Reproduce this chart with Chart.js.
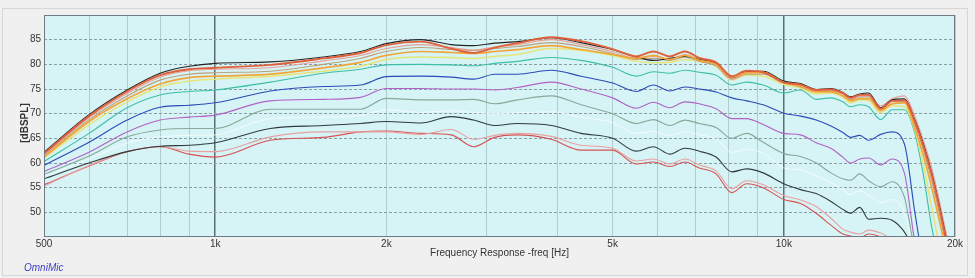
<!DOCTYPE html>
<html lang="en">
<head>
    <meta charset="UTF-8">
    <title>OmniMic Frequency Response</title>
    <script src="https://cdn.jsdelivr.net/npm/chart.js"></script>
    <style>
        body { margin: 0; background: #f0f0f0; }
        canvas { display: block; }
    </style>
</head>
<body>
    <canvas id="freqChart" width="975" height="278"></canvas>

    <script>
        // frequencies (Hz) the curves were read at
        const freqs = [500, 600, 700, 800, 900, 1000, 1250, 1550, 1800, 2000, 2300, 2600, 2850, 3100, 3400,
            3900, 4400, 5000, 5500, 5900, 6300, 6700, 7100, 7600, 8100, 8600, 9200, 10000, 10700, 11400,
            12100, 12700, 13100, 13600, 14100, 14800, 15500, 16300, 17000, 17600, 18200, 18800, 19400, 20000];

        // dBSPL per curve, top to bottom
        const blackTop = [62.2, 69.8, 74.8, 78.2, 79.6, 80.2, 80.5, 81.5, 82.6, 84.2, 85.0, 84.0, 83.8, 84.3, 84.6,
            85.4, 84.4, 83.0, 81.5, 80.8, 81.2, 81.6, 81.0, 80.2, 77.3, 78.5, 78.6, 76.6, 76.1, 74.9,
            75.1, 74.3, 73.4, 74.0, 74.2, 71.2, 72.8, 73.0, 68.7, 63.8, 58.0, 51.0, 43.5, 36.0];
        const redTop = [61.9, 69.5, 74.5, 77.8, 79.0, 79.3, 79.9, 81.2, 82.3, 83.9, 84.6, 83.2, 82.3, 83.4, 84.3,
            85.5, 84.7, 83.1, 81.6, 82.6, 81.6, 82.6, 81.3, 80.4, 77.6, 78.7, 78.4, 76.3, 75.9, 74.8,
            74.9, 74.2, 73.2, 73.8, 73.8, 71.0, 72.6, 72.7, 68.4, 63.4, 57.6, 50.6, 43.0, 35.5];
        const pinkTop = [61.6, 69.2, 74.1, 77.4, 78.7, 79.0, 79.3, 80.7, 81.8, 83.2, 84.0, 83.4, 82.9, 83.5, 84.0,
            85.0, 84.0, 82.6, 81.2, 81.6, 81.0, 82.0, 80.9, 80.0, 77.0, 78.2, 78.3, 76.2, 75.6, 74.6,
            74.8, 74.0, 73.0, 73.6, 73.6, 71.6, 73.0, 73.6, 69.4, 64.6, 59.0, 52.0, 44.5, 37.0];
        const tan = [61.4, 68.8, 73.6, 76.8, 78.0, 78.3, 78.6, 80.0, 81.2, 82.6, 83.4, 83.0, 82.8, 83.2, 83.6,
            84.4, 83.6, 82.2, 81.0, 81.2, 80.8, 81.5, 80.6, 79.7, 77.0, 78.0, 78.0, 76.4, 75.4, 74.5,
            74.6, 74.0, 72.8, 73.4, 73.4, 71.0, 72.5, 72.4, 67.8, 62.6, 56.5, 49.5, 42.0, 35.0];
        const orange = [61.2, 68.4, 73.0, 76.0, 77.3, 77.6, 78.0, 79.3, 80.4, 81.8, 82.6, 82.4, 82.2, 82.6, 83.0,
            83.8, 83.0, 82.0, 81.2, 81.8, 81.0, 81.8, 80.8, 80.0, 77.4, 78.3, 78.3, 76.3, 75.6, 74.4,
            74.4, 73.6, 72.6, 73.0, 73.0, 70.6, 72.0, 72.2, 67.0, 61.5, 55.0, 48.0, 41.0, 34.0];
        const yellow = [61.0, 67.8, 72.4, 75.4, 76.6, 77.0, 77.6, 78.6, 79.6, 81.0, 81.5, 81.4, 81.2, 81.6, 82.0,
            83.2, 82.8, 81.8, 80.6, 80.3, 80.4, 81.0, 80.6, 79.6, 76.8, 77.8, 77.6, 75.9, 75.2, 74.0,
            74.2, 73.4, 72.2, 72.8, 72.6, 70.2, 71.6, 71.4, 66.6, 59.5, 51.0, 43.0, 37.0, 33.0];
        const teal = [60.3, 66.0, 71.2, 73.8, 74.5, 74.8, 76.4, 78.2, 79.0, 79.9, 80.0, 79.9, 79.7, 80.2, 80.6,
            81.4, 80.8, 79.4, 77.6, 78.5, 78.2, 78.8, 78.4, 77.8, 75.8, 76.4, 75.8, 74.2, 74.8, 72.9,
            73.2, 72.4, 71.4, 71.8, 71.4, 68.8, 70.8, 70.8, 66.0, 57.5, 47.0, 40.0, 36.0, 33.0];
        const blue = [59.5, 64.2, 68.7, 71.3, 71.7, 72.2, 74.6, 75.5, 75.8, 77.5, 77.6, 77.4, 77.0, 78.0, 78.0,
            78.8, 77.6, 76.2, 74.5, 75.8, 74.6, 75.4, 75.0, 74.4, 73.2, 72.6, 71.8, 70.1, 69.5, 68.7,
            67.5, 66.2, 65.2, 65.6, 64.6, 65.8, 66.3, 63.8, 50.0, 40.0, 36.0, 34.0, 33.0, 32.0];
        const purple = [58.3, 62.2, 66.3, 68.7, 69.3, 69.7, 72.6, 72.9, 73.3, 75.1, 75.1, 75.0, 75.0, 74.8, 75.3,
            76.4, 75.0, 73.2, 71.1, 72.3, 71.2, 72.4, 72.0, 71.0, 69.0, 69.0, 67.8, 66.0, 65.7, 64.1,
            63.0, 61.2, 60.0, 60.8, 61.0, 59.6, 60.8, 57.9, 44.0, 38.0, 35.0, 33.0, 32.0, 31.0];
        const grayGreen = [57.7, 61.4, 65.3, 66.7, 67.0, 67.0, 70.9, 70.9, 70.9, 73.1, 72.8, 72.8, 72.9, 72.0, 72.8,
            73.6, 71.8, 70.0, 68.0, 68.8, 67.6, 68.7, 68.0, 67.2, 65.0, 66.0, 64.2, 61.9, 61.3, 60.0,
            58.0, 56.8, 56.5, 57.8, 56.4, 55.2, 56.2, 53.0, 42.0, 36.0, 34.0, 32.0, 31.0, 30.0];
        const white = [57.2, 60.8, 64.0, 65.3, 65.6, 65.7, 69.0, 69.3, 69.6, 70.8, 70.3, 70.6, 70.2, 70.0, 70.2,
            70.4, 69.3, 68.2, 66.0, 66.4, 65.6, 66.4, 65.8, 64.8, 62.2, 62.8, 62.0, 59.0, 58.6, 57.4,
            56.0, 54.6, 53.6, 54.4, 53.4, 52.0, 52.6, 50.0, 42.0, 36.0, 34.0, 32.0, 31.0, 30.0];
        const darkLow = [56.8, 60.0, 62.3, 63.4, 63.6, 64.1, 67.0, 67.6, 68.0, 68.4, 68.1, 69.4, 68.7, 67.6, 68.0,
            67.6, 66.0, 65.0, 62.4, 63.3, 61.8, 63.0, 62.4, 61.2, 58.2, 58.8, 58.0, 55.8, 54.6, 53.8,
            52.2, 50.6, 49.8, 51.0, 48.6, 48.8, 48.4, 46.0, 42.0, 38.0, 35.0, 33.0, 32.0, 31.0];
        const pinkLow = [55.3, 59.5, 62.3, 63.3, 62.4, 62.3, 65.3, 66.3, 66.3, 66.3, 65.8, 66.8, 64.8, 65.6, 66.0,
            65.4, 63.6, 63.0, 60.4, 60.8, 59.8, 60.8, 59.6, 58.4, 54.8, 56.4, 55.6, 53.4, 52.5, 51.2,
            48.8, 46.6, 46.0, 45.6, 46.4, 45.8, 44.5, 43.0, 40.0, 37.0, 35.0, 33.0, 32.0, 31.0];
        const redLow = [55.6, 59.4, 62.3, 63.3, 61.8, 61.2, 64.6, 65.2, 66.3, 66.5, 66.0, 65.7, 63.3, 65.2, 65.7,
            64.8, 62.6, 62.6, 59.8, 60.2, 59.3, 60.2, 59.0, 57.8, 54.0, 55.8, 55.0, 52.6, 51.8, 49.8,
            47.4, 45.6, 45.2, 44.8, 45.6, 45.0, 43.5, 42.0, 39.0, 36.0, 34.0, 32.0, 31.0, 30.0];

        // axis ticks
        const xGridValues = [500, 600, 700, 800, 900, 1000, 2000, 3000, 4000, 5000, 6000, 7000, 8000, 9000, 10000, 20000];
        const xLabels = { 500: '500', 1000: '1k', 2000: '2k', 5000: '5k', 10000: '10k', 20000: '20k' };
        const yTickValues = [50, 55, 60, 65, 70, 75, 80, 85];

        const FONT = "'Liberation Sans', Arial, sans-serif";

        function curve(values, color, width) {
            return {
                data: freqs.map((f, i) => ({ x: f, y: values[i] })),
                borderColor: color,
                borderWidth: width || 1.1,
                pointRadius: 0,
                fill: false,
                cubicInterpolationMode: 'monotone'
            };
        }

        // backgrounds, frame and the free-standing texts
        const decor = {
            id: 'decor',
            beforeDraw(chart) {
                const ctx = chart.ctx;
                const a = chart.chartArea;
                ctx.save();
                ctx.fillStyle = '#f0f0f0';
                ctx.fillRect(0, 0, chart.width, chart.height);
                ctx.strokeStyle = '#d6d6d6';
                ctx.lineWidth = 1;
                ctx.strokeRect(2.5, 8.5, 965, 267);
                ctx.fillStyle = '#d6f3f5';
                ctx.fillRect(a.left, a.top, a.right - a.left, a.bottom - a.top);
                ctx.restore();
            },
            afterDraw(chart) {
                const ctx = chart.ctx;
                const a = chart.chartArea;
                ctx.save();
                ctx.strokeStyle = '#6e7b84';
                ctx.lineWidth = 1;
                ctx.strokeRect(a.left + 0.5, a.top + 0.5, a.right - a.left - 1, a.bottom - a.top - 1);

                ctx.fillStyle = '#333';
                ctx.font = '10px ' + FONT;
                ctx.textAlign = 'center';
                ctx.textBaseline = 'middle';
                ctx.fillText('Frequency Response -freq [Hz]', (a.left + a.right) / 2, 253);

                ctx.save();
                ctx.translate(25, 123);
                ctx.rotate(-Math.PI / 2);
                ctx.font = 'bold 10px ' + FONT;
                ctx.fillText('[dBSPL]', 0, 0);
                ctx.restore();

                ctx.fillStyle = '#4040c4';
                ctx.font = 'italic 10px ' + FONT;
                ctx.textAlign = 'left';
                ctx.fillText('OmniMic', 24, 268);
                ctx.restore();
            }
        };

        const ctx = document.getElementById('freqChart').getContext('2d');
        const chart = new Chart(ctx, {
            type: 'line',
            data: {
                datasets: [
                    curve(redTop, '#e0603c', 1.9),
                    curve(orange, '#f2a63a', 1.7),
                    curve(blackTop, '#242424'),
                    curve(pinkTop, '#e8a098'),
                    curve(tan, '#bba27c'),
                    curve(yellow, '#e4e67a', 1.5),
                    curve(teal, '#3cbfa8'),
                    curve(blue, '#2a4cb8'),
                    curve(purple, '#b062c6'),
                    curve(grayGreen, '#88a89c'),
                    curve(white, 'rgba(255,255,255,0.6)'),
                    curve(darkLow, '#2e3c3c'),
                    curve(pinkLow, '#e8a0a0'),
                    curve(redLow, '#d65252')
                ]
            },
            options: {
                responsive: false,
                animation: false,
                events: [],
                layout: { padding: { top: 15, right: 20, bottom: 0, left: 0 } },
                plugins: {
                    legend: { display: false },
                    tooltip: { enabled: false }
                },
                scales: {
                    x: {
                        type: 'logarithmic',
                        min: 500,
                        max: 20000,
                        afterBuildTicks: (axis) => { axis.ticks = xGridValues.map(v => ({ value: v })); },
                        afterFit: (axis) => { axis.height = 41; },
                        border: { display: false },
                        grid: {
                            drawTicks: false,
                            color: (c) => (c.tick && (c.tick.value === 1000 || c.tick.value === 10000)) ? '#5d6e76' : '#b0ccd1',
                            lineWidth: (c) => (c.tick && (c.tick.value === 1000 || c.tick.value === 10000)) ? 1.5 : 1
                        },
                        ticks: {
                            autoSkip: false,
                            maxRotation: 0,
                            padding: 1,
                            color: '#333',
                            font: { family: FONT, size: 10 },
                            callback: (value) => xLabels[value] || ''
                        }
                    },
                    y: {
                        min: 45,
                        max: 90,
                        afterBuildTicks: (axis) => { axis.ticks = yTickValues.map(v => ({ value: v })); },
                        afterFit: (axis) => { axis.width = 44; },
                        border: { display: false, dash: [3, 2] },
                        grid: { drawTicks: false, color: '#8a9ca4', lineWidth: 1 },
                        ticks: {
                            padding: 3,
                            color: '#333',
                            font: { family: FONT, size: 10 }
                        }
                    }
                }
            },
            plugins: [decor]
        });
    </script>
</body>
</html>
